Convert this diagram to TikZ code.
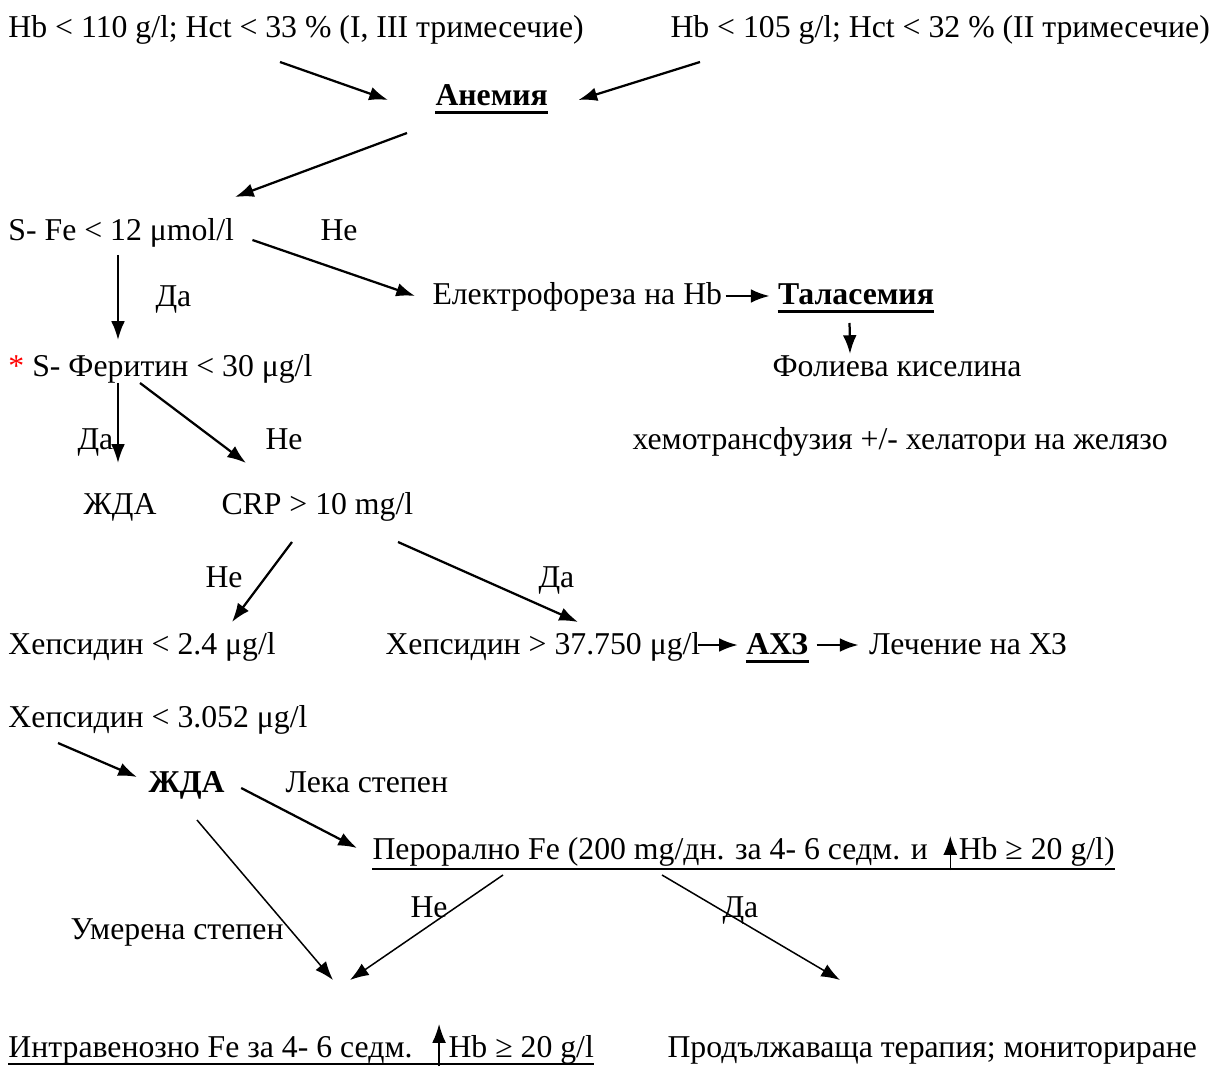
\documentclass[tikz,border=0pt]{standalone}
\usepackage{fontspec}
\setmainfont{Liberation Serif}
\usetikzlibrary{positioning,arrows.meta}
\tikzset{
  txt/.style   = {anchor=base west, inner sep=0pt,
                  font=\fontsize{12.7}{15}\selectfont},
  hdr/.style   = {txt, font=\fontsize{12.7}{15}\selectfont\bfseries},
  flow/.style  = {draw, line width=0.9pt, -{Latex[length=7.5pt,width=5.5pt]}},
  thin/.style  = {flow, line width=0.6pt},
  uline/.style = {draw, line width=0.8pt}
}

\begin{document}
\begin{tikzpicture}
  [
    x = 0.4pt,
    y = -0.4pt
  ]
  \useasboundingbox (0,0) rectangle (1225,1091);
  % criteria and diagnosis
  \node [txt] (hbA) at (8,38) {Hb < 110 g/l; Hct < 33 \% (I, III тримесечие)};
  \node [txt] (hbB) at (670,38) {Hb < 105 g/l; Hct < 32 \% (II тримесечие)};
  \node [hdr] (anem) at (435,106) {Анемия};
  \node [txt] (sfe) at (8,241) {S- Fe < 12 μmol/l};
  \node [txt] (sfeNo) at (320,241) {Не};
  \node [txt] (sfeYes) at (155,307) {Да};
  \node [txt] (elf) at (432,305) {Електрофореза на Hb};
  \node [hdr, base right=22pt of elf] (tal) {Таласемия};
  \node [txt] (fol) at (772,377) {Фолиева киселина};
  \node [txt] (hemo) at (632,449) {хемотрансфузия +/- хелатори на желязо};
  \node [txt] (ferr) at (8,377) {{\color{red}*} S- Феритин < 30 μg/l};
  \node [txt] (ferrYes) at (77,449) {Да};
  \node [txt] (ferrNo) at (265,449) {Не};
  \node [txt] (zhdaA) at (83,514) {ЖДА};
  \node [txt] (crp) at (221,514) {CRP > 10 mg/l};
  \node [txt] (crpNo) at (205,587) {Не};
  \node [txt] (crpYes) at (538,587) {Да};
  \node [txt] (hepA) at (8,654) {Хепсидин < 2.4 μg/l};
  \node [txt] (hepB) at (385,654) {Хепсидин > 37.750 μg/l};
  \node [hdr, base right=18pt of hepB] (ahz) {АХЗ};
  \node [txt, base right=24pt of ahz] (lech) {Лечение на ХЗ};
  % therapy
  \node [txt] (hepC) at (8,727) {Хепсидин < 3.052 μg/l};
  \node [hdr] (zhdaB) at (148,792) {ЖДА};
  \node [txt] (mild) at (285,792) {Лека степен};
  \node [txt] (perA) at (372,859) {Перорално Fe (200 mg/дн. за 4- 6 седм. и};
  \node [txt, base right=12pt of perA] (perB) {Hb ≥ 20 g/l)};
  \node [txt] (perNo) at (410,917) {Не};
  \node [txt] (perYes) at (722,917) {Да};
  \node [txt] (moder) at (70,939) {Умерена степен};
  \node [txt] (ivA) at (8,1057) {Интравенозно Fe за 4- 6 седм.};
  \node [txt, base right=14pt of ivA] (ivB) {Hb ≥ 20 g/l};
  \node [txt] (cont) at (667,1057) {Продължаваща терапия; мониториране};

  \foreach \n in {anem,tal,ahz}
    \draw [uline, line width=1.2pt] ([yshift=-2.8pt]\n.base west) -- ([yshift=-2.8pt]\n.base east);
  \draw [uline] ([yshift=-3.8pt]perA.base west) -- ([yshift=-3.8pt]perB.base east);
  \draw [uline] ([yshift=-2.8pt]ivA.base west) -- ([yshift=-2.8pt]ivB.base east);

  \draw [flow] ([shift={(272,24)}]hbA.base west) -- ([shift={(-47,-6)}]anem.base west);
  \draw [flow] ([shift={(30,24)}]hbB.base west) -- ([shift={(30,-6)}]anem.base east);
  \draw [flow] ([shift={(-28,27)}]anem.base west) -- ([shift={(227,-44)}]sfe.base west);
  \draw [flow] ([shift={(18,-1)}]sfe.base east) -- ([shift={(-17,-9)}]elf.base west);
  \draw [flow] ([shift={(3,-9)}]elf.base east) -- ([shift={(-8,-9)}]tal.base west);
  \draw [flow] ([shift={(72,18)}]tal.base west) -- ([shift={(78,-23)}]fol.base west);
  \draw [flow] ([shift={(110,14)}]sfe.base west) -- ([shift={(110,-37)}]ferr.base west);
  \draw [flow] ([shift={(110,6)}]ferr.base west) -- ([shift={(35,-51)}]zhdaA.base west);
  \draw [flow] ([shift={(132,6)}]ferr.base west) -- ([shift={(25,-51)}]crp.base west);
  \draw [flow] ([shift={(71,28)}]crp.base west) -- ([shift={(224,-32)}]hepA.base west);
  \draw [flow] ([shift={(177,28)}]crp.base west) -- ([shift={(193,-32)}]hepB.base west);
  \draw [flow] ([shift={(-3,-9)}]hepB.base east) -- ([shift={(-8,-9)}]ahz.base west);
  \draw [flow] ([shift={(8,-9)}]ahz.base east) -- ([shift={(-10,-9)}]lech.base west);
  \draw [flow] ([shift={(50,16)}]hepC.base west) -- ([shift={(-11,-15)}]zhdaB.base west);
  \draw [flow] ([shift={(16,-4)}]zhdaB.base east) -- ([shift={(-15,-11)}]perA.base west);
  \draw [thin] ([shift={(49,28)}]zhdaB.base west) -- ([shift={(325,-77)}]ivA.base west);
  \draw [thin] ([shift={(131,16)}]perA.base west) -- ([shift={(342,-77)}]ivA.base west);
  \draw [thin] ([shift={(290,16)}]perA.base west) -- ([shift={(173,-77)}]cont.base west);
  \draw [thin] ([shift={(-8,11)}]perB.base west) -- ([shift={(-8,-23)}]perB.base west);
  \draw [thin] ([shift={(-9,9)}]ivB.base west) -- ([shift={(-9,-33)}]ivB.base west);
\end{tikzpicture}
\end{document}
